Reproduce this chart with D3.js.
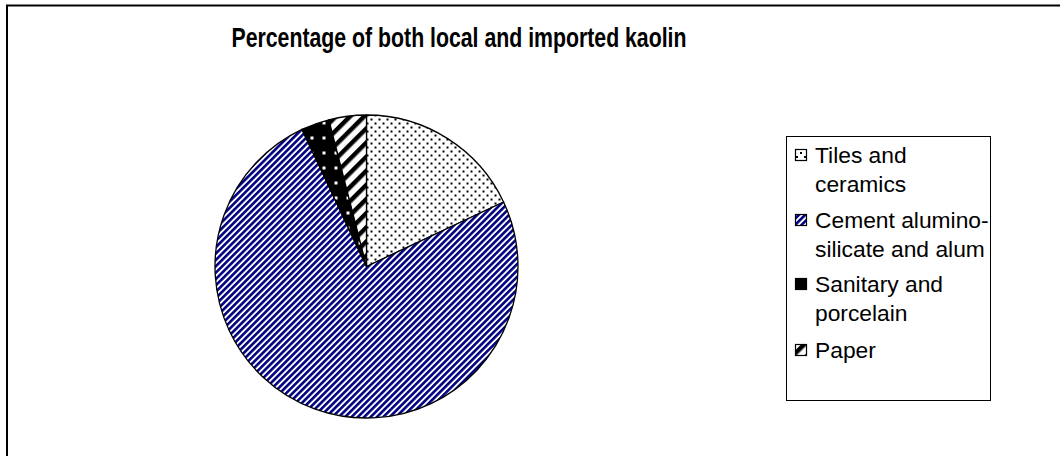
<!DOCTYPE html>
<html>
<head>
<meta charset="utf-8">
<script src="https://cdn.jsdelivr.net/npm/d3@7"></script>
<style>
    body { margin: 0; background: #fff; }
    svg { display: block; }
</style>
</head>
<body>
<div id="chart"></div>
<script>
// Chart data
const titleText = 'Percentage of both local and imported kaolin';
const categories = ['Tiles and ceramics', 'Cement alumino-silicate and alum', 'Sanitary and porcelain', 'Paper'];
const legendLines = [['Tiles and', 'ceramics'], ['Cement alumino-', 'silicate and alum'], ['Sanitary and', 'porcelain'], ['Paper']];
const shares = [18, 75, 3, 4];
const patternIds = ['pat-dots', 'pat-navy', 'pat-black', 'pat-wide'];

function drawChart() {
    const width = 1060, height = 456;
    const svg = d3.select('#chart').append('svg')
        .attr('width', width)
        .attr('height', height);

    const defs = svg.append('defs');

    // Dotted pattern (tiles)
    const dots = defs.append('pattern')
        .attr('id', 'pat-dots')
        .attr('patternUnits', 'userSpaceOnUse')
        .attr('width', 8).attr('height', 8);
    dots.append('rect').attr('width', 8).attr('height', 8).attr('fill', '#fff');
    dots.append('rect').attr('x', 0).attr('y', 0).attr('width', 2).attr('height', 2).attr('fill', '#000');
    dots.append('rect').attr('x', 4).attr('y', 4).attr('width', 2).attr('height', 2).attr('fill', '#000');

    // Navy fine diagonal stripes (cement)
    const navy = defs.append('pattern')
        .attr('id', 'pat-navy')
        .attr('patternUnits', 'userSpaceOnUse')
        .attr('width', 4.5).attr('height', 4.5)
        .attr('patternTransform', 'rotate(45)');
    navy.append('rect').attr('width', 4.5).attr('height', 4.5).attr('fill', '#fff');
    navy.append('rect').attr('width', 2.6).attr('height', 4.5).attr('fill', '#000080');

    // Black with sparse white dots (sanitary)
    const blk = defs.append('pattern')
        .attr('id', 'pat-black')
        .attr('patternUnits', 'userSpaceOnUse')
        .attr('width', 12).attr('height', 15);
    blk.append('rect').attr('width', 12).attr('height', 15).attr('fill', '#000');
    blk.append('rect').attr('x', 4).attr('y', 5).attr('width', 3).attr('height', 3).attr('fill', '#fff');

    // Wide black diagonal stripes (paper)
    const wide = defs.append('pattern')
        .attr('id', 'pat-wide')
        .attr('patternUnits', 'userSpaceOnUse')
        .attr('width', 10).attr('height', 10)
        .attr('patternTransform', 'rotate(45)');
    wide.append('rect').attr('width', 10).attr('height', 10).attr('fill', '#fff');
    wide.append('rect').attr('width', 4.5).attr('height', 10).attr('fill', '#000');

    // Outer frame (runs past the right and bottom edges)
    svg.append('rect')
        .attr('x', 7).attr('y', 5.5)
        .attr('width', 1200).attr('height', 1200)
        .attr('fill', 'none')
        .attr('stroke', '#000')
        .attr('stroke-width', 2);

    // Title
    svg.append('text')
        .attr('x', 459)
        .attr('y', 47)
        .attr('text-anchor', 'middle')
        .attr('font-family', '"Liberation Sans", Arial, sans-serif')
        .attr('font-weight', 'bold')
        .attr('font-size', '28px')
        .attr('textLength', 455)
        .attr('lengthAdjust', 'spacingAndGlyphs')
        .text(titleText);

    // Pie
    const cx = 366.5, cy = 266.5, radius = 151.5;
    const pie = d3.pie().sort(null).value(d => d);
    const arc = d3.arc().innerRadius(0).outerRadius(radius);

    svg.append('g')
        .attr('transform', `translate(${cx},${cy})`)
        .selectAll('path')
        .data(pie(shares))
        .enter()
        .append('path')
        .attr('d', arc)
        .attr('fill', (d, i) => `url(#${patternIds[i]})`)
        .attr('stroke', '#000')
        .attr('stroke-width', 1.3);

    // Legend
    const legend = svg.append('g').attr('class', 'legend');
    legend.append('clipPath').attr('id', 'legend-clip')
        .append('rect')
        .attr('x', 786).attr('y', 136).attr('width', 204).attr('height', 264);
    legend.append('rect')
        .attr('x', 786.5).attr('y', 136.5)
        .attr('width', 204).attr('height', 264)
        .attr('fill', '#fff')
        .attr('stroke', '#000')
        .attr('stroke-width', 1);

    const baselines = [163, 228, 292, 358];
    const items = legend.append('g').attr('clip-path', 'url(#legend-clip)')
        .selectAll('g')
        .data(categories)
        .enter()
        .append('g');

    items.append('rect')
        .attr('x', 795.5).attr('y', (d, i) => baselines[i] - 13.5)
        .attr('width', 11).attr('height', 11)
        .attr('fill', (d, i) => `url(#${patternIds[i]})`)
        .attr('stroke', '#000')
        .attr('stroke-width', 1.2);

    items.append('text')
        .attr('font-family', '"Liberation Sans", Arial, sans-serif')
        .attr('font-size', '22.8px')
        .attr('fill', '#000')
        .each(function(d, i) {
            d3.select(this).selectAll('tspan')
                .data(legendLines[i])
                .enter()
                .append('tspan')
                .attr('x', 815)
                .attr('y', (t, j) => baselines[i] + j * 29)
                .text(t => t);
        });
}

drawChart();
</script>
</body>
</html>
